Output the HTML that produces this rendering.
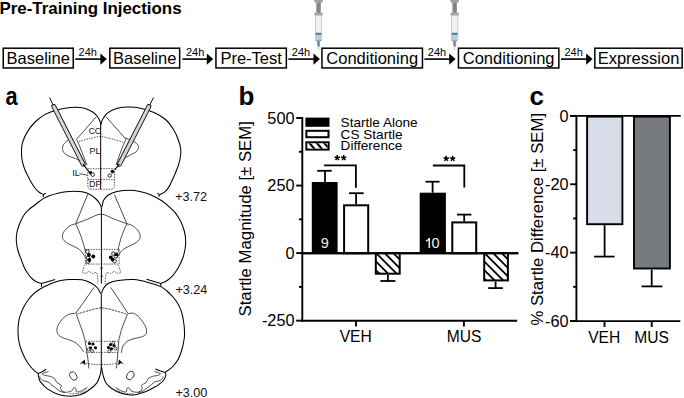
<!DOCTYPE html>
<html><head><meta charset="utf-8"><style>
*{margin:0;padding:0}
html,body{width:684px;height:398px;background:#fff;overflow:hidden}
svg{display:block;position:absolute;left:0;top:0}
text{font-family:"Liberation Sans",sans-serif;fill:#000}
.title{font-weight:bold;font-size:16.9px}
.bt{font-size:16.5px}
.h24{font-size:11px}
.pl{font-weight:bold;font-size:26px}
.tk{font-size:16.3px}
.xl{font-size:15.6px}
.yl{font-size:16.75px}
.lg{font-size:13.6px}
.num{font-size:14.5px;fill:#eee}
.st{font-size:14px;font-weight:bold}
.box{fill:none;stroke:#000;stroke-width:1.5}
.ax{stroke:#000;stroke-width:1.9;fill:none}
.eb{stroke:#000;stroke-width:1.8;fill:none}
.br{stroke:#000;stroke-width:1.8;fill:none}
.o{fill:none;stroke:#000;stroke-width:1.05}
.m{fill:none;stroke:#000;stroke-width:1}
.t{fill:none;stroke:#111;stroke-width:0.75}
.d{fill:none;stroke:#111;stroke-width:0.7;stroke-dasharray:1.5 1.1}
.d2{fill:none;stroke:#111;stroke-width:0.75;stroke-dasharray:2.4 0.9}
.bl{font-size:9px;fill:#111}
.dl{font-size:12.6px;fill:#111}
</style></head>
<body><svg width="684" height="398" viewBox="0 0 684 398"><defs>
<pattern id="hatch" patternUnits="userSpaceOnUse" width="8.4" height="8.4" patternTransform="rotate(-45)">
<rect width="8.4" height="8.4" fill="#fff"/><rect x="0" y="0" width="2.2" height="8.4" fill="#000"/></pattern>
<pattern id="hatch2" patternUnits="userSpaceOnUse" width="5.5" height="5.5" patternTransform="rotate(-45)">
<rect width="5.5" height="5.5" fill="#fff"/><rect x="0" y="0" width="1.8" height="5.5" fill="#000"/></pattern>
</defs>
<text x="-0.5" y="13.9" class="title">Pre-Training Injections</text>
<rect x="3.25" y="48.2" width="70.00" height="19.75" class="box"/>
<text x="38.25" y="63.8" class="bt" text-anchor="middle">Baseline</text>
<rect x="109.85" y="48.2" width="69.80" height="19.75" class="box"/>
<text x="144.75" y="63.8" class="bt" text-anchor="middle">Baseline</text>
<rect x="215.95" y="48.2" width="70.40" height="19.75" class="box"/>
<text x="251.15" y="63.8" class="bt" text-anchor="middle">Pre-Test</text>
<rect x="321.95" y="48.2" width="100.50" height="19.75" class="box"/>
<text x="372.20" y="63.8" class="bt" text-anchor="middle">Conditioning</text>
<rect x="458.45" y="48.2" width="100.40" height="19.75" class="box"/>
<text x="508.65" y="63.8" class="bt" text-anchor="middle">Conditioning</text>
<rect x="594.85" y="48.2" width="87.30" height="19.75" class="box"/>
<text x="638.50" y="63.8" class="bt" text-anchor="middle">Expression</text>
<line x1="75.2" y1="59.1" x2="101.8" y2="59.1" stroke="#000" stroke-width="1.6"/>
<path d="M100.4,53.5 L106.8,59.1 L100.4,64.7 Z" fill="#000"/>
<text x="78.6" y="56.4" class="h24">24h</text>
<line x1="182.5" y1="59.1" x2="208.2" y2="59.1" stroke="#000" stroke-width="1.6"/>
<path d="M206.8,53.5 L213.2,59.1 L206.8,64.7 Z" fill="#000"/>
<text x="185.9" y="56.4" class="h24">24h</text>
<line x1="288.4" y1="59.1" x2="314.9" y2="59.1" stroke="#000" stroke-width="1.6"/>
<path d="M313.5,53.5 L319.9,59.1 L313.5,64.7 Z" fill="#000"/>
<text x="291.8" y="56.4" class="h24">24h</text>
<line x1="424.4" y1="59.1" x2="450.6" y2="59.1" stroke="#000" stroke-width="1.6"/>
<path d="M449.2,53.5 L455.6,59.1 L449.2,64.7 Z" fill="#000"/>
<text x="427.8" y="56.4" class="h24">24h</text>
<line x1="561.0" y1="59.1" x2="587.6" y2="59.1" stroke="#000" stroke-width="1.6"/>
<path d="M586.2,53.5 L592.6,59.1 L586.2,64.7 Z" fill="#000"/>
<text x="564.4" y="56.4" class="h24">24h</text>
<g transform="translate(318.55,0)"><line x1="0" y1="46.4" x2="0" y2="50" stroke="#b8bcc0" stroke-width="0.9"/><path d="M-3.2,40 L-1.5,41.8 L-1.5,46.6 L1.5,46.6 L1.5,41.8 L3.2,40 Z" fill="#8e9499"/><rect x="-3.25" y="15.1" width="6.5" height="25" fill="#eff1f3" stroke="#aeb2b6" stroke-width="0.6"/><rect x="-2.95" y="34.8" width="5.9" height="5.2" fill="#a6d2ee"/><rect x="-2.95" y="32.8" width="5.9" height="2.1" fill="#6c7884"/><rect x="-2.3" y="2.4" width="4.6" height="10.6" fill="#8e9296"/><rect x="-1.0" y="2.4" width="2.0" height="10.6" fill="#7e8286"/><rect x="-4.4" y="12.8" width="8.8" height="2.4" rx="1" fill="#a4a8ac"/><rect x="-4.2" y="-1" width="8.4" height="3.7" rx="1.5" fill="#9ca0a4"/></g>
<g transform="translate(454.65,0)"><line x1="0" y1="46.4" x2="0" y2="50" stroke="#b8bcc0" stroke-width="0.9"/><path d="M-3.2,40 L-1.5,41.8 L-1.5,46.6 L1.5,46.6 L1.5,41.8 L3.2,40 Z" fill="#8e9499"/><rect x="-3.25" y="15.1" width="6.5" height="25" fill="#eff1f3" stroke="#aeb2b6" stroke-width="0.6"/><rect x="-2.95" y="34.8" width="5.9" height="5.2" fill="#a6d2ee"/><rect x="-2.95" y="32.8" width="5.9" height="2.1" fill="#6c7884"/><rect x="-2.3" y="2.4" width="4.6" height="10.6" fill="#8e9296"/><rect x="-1.0" y="2.4" width="2.0" height="10.6" fill="#7e8286"/><rect x="-4.4" y="12.8" width="8.8" height="2.4" rx="1" fill="#a4a8ac"/><rect x="-4.2" y="-1" width="8.4" height="3.7" rx="1.5" fill="#9ca0a4"/></g>
<text x="0" y="0" class="pl" transform="translate(5.4,104.7) scale(0.84,1)">a</text>
<text x="238.5" y="105" class="pl">b</text>
<text x="529.5" y="105" class="pl">c</text>
<line x1="302.3" y1="117.2" x2="302.3" y2="321.5" class="ax"/>
<line x1="296.2" y1="118.00" x2="302.3" y2="118.00" class="ax"/>
<text x="294.5" y="123.70" class="tk" text-anchor="end">500</text>
<line x1="296.2" y1="185.55" x2="302.3" y2="185.55" class="ax"/>
<text x="294.5" y="191.25" class="tk" text-anchor="end">250</text>
<line x1="296.2" y1="253.10" x2="302.3" y2="253.10" class="ax"/>
<text x="294.5" y="258.80" class="tk" text-anchor="end">0</text>
<line x1="296.2" y1="320.65" x2="302.3" y2="320.65" class="ax"/>
<text x="294.5" y="326.35" class="tk" text-anchor="end">-250</text>
<line x1="299" y1="151.77" x2="302.3" y2="151.77" class="ax"/>
<line x1="299" y1="219.32" x2="302.3" y2="219.32" class="ax"/>
<line x1="299" y1="286.88" x2="302.3" y2="286.88" class="ax"/>
<line x1="302.3" y1="253.2" x2="518.3" y2="253.2" class="ax"/>
<line x1="301.4" y1="320.7" x2="517.2" y2="320.7" class="ax"/>
<line x1="356.0" y1="320.7" x2="356.0" y2="326.6" class="ax"/>
<line x1="463.9" y1="320.7" x2="463.9" y2="326.6" class="ax"/>
<text x="355.7" y="341.8" class="xl" text-anchor="middle">VEH</text>
<text x="464" y="341.8" class="xl" text-anchor="middle">MUS</text>
<text transform="translate(250.6,316.5) rotate(-90)" class="yl">Startle Magnitude [± SEM]</text>
<line x1="325.00" y1="182.00" x2="325.00" y2="170.80" class="eb"/><line x1="317.20" y1="170.80" x2="331.70" y2="170.80" class="eb"/>
<rect x="311.80" y="182.00" width="25.80" height="71.20" fill="#000"/>
<line x1="356.10" y1="204.30" x2="356.10" y2="193.20" class="eb"/><line x1="349.10" y1="193.20" x2="363.70" y2="193.20" class="eb"/>
<rect x="344.10" y="205.30" width="24.10" height="47.90" fill="#fff" stroke="#000" stroke-width="2"/>
<line x1="387.90" y1="274.70" x2="387.90" y2="281.00" class="eb"/><line x1="380.40" y1="281.00" x2="395.40" y2="281.00" class="eb"/>
<clipPath id="hc1"><rect x="376.30" y="253.20" width="22.90" height="20.00"/></clipPath><g clip-path="url(#hc1)"><rect x="376.30" y="253.20" width="22.90" height="20.00" fill="#fff"/><path d="M271.00,251.20 L295.00,275.20 M279.60,251.20 L303.60,275.20 M288.20,251.20 L312.20,275.20 M296.80,251.20 L320.80,275.20 M305.40,251.20 L329.40,275.20 M314.00,251.20 L338.00,275.20 M322.60,251.20 L346.60,275.20 M331.20,251.20 L355.20,275.20 M339.80,251.20 L363.80,275.20 M348.40,251.20 L372.40,275.20 M357.00,251.20 L381.00,275.20 M365.60,251.20 L389.60,275.20 M374.20,251.20 L398.20,275.20 M382.80,251.20 L406.80,275.20 M391.40,251.20 L415.40,275.20 M400.00,251.20 L424.00,275.20 M408.60,251.20 L432.60,275.20 M417.20,251.20 L441.20,275.20 M425.80,251.20 L449.80,275.20 M434.40,251.20 L458.40,275.20 M443.00,251.20 L467.00,275.20 M451.60,251.20 L475.60,275.20 M460.20,251.20 L484.20,275.20 M468.80,251.20 L492.80,275.20 " stroke="#000" stroke-width="1.80" fill="none"/></g><rect x="375.80" y="253.2" width="23.90" height="20.50" fill="none" stroke="#000" stroke-width="2"/>
<line x1="432.60" y1="192.70" x2="432.60" y2="181.70" class="eb"/><line x1="425.50" y1="181.70" x2="439.60" y2="181.70" class="eb"/>
<rect x="419.70" y="192.70" width="26.20" height="60.50" fill="#000"/>
<line x1="464.20" y1="221.40" x2="464.20" y2="214.60" class="eb"/><line x1="457.00" y1="214.60" x2="471.40" y2="214.60" class="eb"/>
<rect x="452.30" y="222.40" width="23.90" height="30.80" fill="#fff" stroke="#000" stroke-width="2"/>
<line x1="495.60" y1="281.40" x2="495.60" y2="288.10" class="eb"/><line x1="488.20" y1="288.10" x2="502.90" y2="288.10" class="eb"/>
<clipPath id="hc2"><rect x="484.70" y="253.20" width="22.70" height="26.70"/></clipPath><g clip-path="url(#hc2)"><rect x="484.70" y="253.20" width="22.70" height="26.70" fill="#fff"/><path d="M379.40,251.20 L410.10,281.90 M388.00,251.20 L418.70,281.90 M396.60,251.20 L427.30,281.90 M405.20,251.20 L435.90,281.90 M413.80,251.20 L444.50,281.90 M422.40,251.20 L453.10,281.90 M431.00,251.20 L461.70,281.90 M439.60,251.20 L470.30,281.90 M448.20,251.20 L478.90,281.90 M456.80,251.20 L487.50,281.90 M465.40,251.20 L496.10,281.90 M474.00,251.20 L504.70,281.90 M482.60,251.20 L513.30,281.90 M491.20,251.20 L521.90,281.90 M499.80,251.20 L530.50,281.90 M508.40,251.20 L539.10,281.90 M517.00,251.20 L547.70,281.90 M525.60,251.20 L556.30,281.90 M534.20,251.20 L564.90,281.90 M542.80,251.20 L573.50,281.90 M551.40,251.20 L582.10,281.90 M560.00,251.20 L590.70,281.90 M568.60,251.20 L599.30,281.90 M577.20,251.20 L607.90,281.90 " stroke="#000" stroke-width="1.80" fill="none"/></g><rect x="484.20" y="253.2" width="23.70" height="27.20" fill="none" stroke="#000" stroke-width="2"/>
<line x1="302.3" y1="253.2" x2="518.3" y2="253.2" class="ax"/>
<text x="324.8" y="247.8" class="num" text-anchor="middle">9</text>
<path d="M429.3,237.9 V247.9 M429.3,238.4 C428.6,239.7 427.4,240.6 425.9,241.1" stroke="#eee" stroke-width="1.45" fill="none"/>
<text x="431.5" y="247.8" class="num">0</text>
<path d="M324.1,165.35 H355.9 V187.7" class="br"/>
<path d="M432.9,165.5 H464.3 V187.5" class="br"/>
<path d="M337.20,157.90 L337.20,155.10 M337.20,157.90 L339.86,157.03 M337.20,157.90 L338.85,160.17 M337.20,157.90 L335.55,160.17 M337.20,157.90 L334.54,157.03 " stroke="#000" stroke-width="1.5" fill="none"/>
<path d="M343.70,157.90 L343.70,155.10 M343.70,157.90 L346.36,157.03 M343.70,157.90 L345.35,160.17 M343.70,157.90 L342.05,160.17 M343.70,157.90 L341.04,157.03 " stroke="#000" stroke-width="1.5" fill="none"/>
<path d="M446.20,158.60 L446.20,155.80 M446.20,158.60 L448.86,157.73 M446.20,158.60 L447.85,160.87 M446.20,158.60 L444.55,160.87 M446.20,158.60 L443.54,157.73 " stroke="#000" stroke-width="1.5" fill="none"/>
<path d="M452.60,158.60 L452.60,155.80 M452.60,158.60 L455.26,157.73 M452.60,158.60 L454.25,160.87 M452.60,158.60 L450.95,160.87 M452.60,158.60 L449.94,157.73 " stroke="#000" stroke-width="1.5" fill="none"/>
<rect x="305.4" y="117.6" width="24.1" height="9.2" fill="#000"/>
<rect x="306.4" y="130.8" width="22.1" height="6.4" fill="#fff" stroke="#000" stroke-width="2"/>
<clipPath id="hc3"><rect x="307.20" y="143.20" width="20.50" height="5.50"/></clipPath><g clip-path="url(#hc3)"><rect x="307.20" y="143.20" width="20.50" height="5.50" fill="#fff"/><path d="M219.10,141.20 L227.17,150.70 M226.50,141.20 L234.57,150.70 M233.90,141.20 L241.97,150.70 M241.30,141.20 L249.37,150.70 M248.70,141.20 L256.77,150.70 M256.10,141.20 L264.17,150.70 M263.50,141.20 L271.57,150.70 M270.90,141.20 L278.97,150.70 M278.30,141.20 L286.37,150.70 M285.70,141.20 L293.77,150.70 M293.10,141.20 L301.17,150.70 M300.50,141.20 L308.57,150.70 M307.90,141.20 L315.97,150.70 M315.30,141.20 L323.37,150.70 M322.70,141.20 L330.77,150.70 M330.10,141.20 L338.17,150.70 M337.50,141.20 L345.57,150.70 M344.90,141.20 L352.97,150.70 M352.30,141.20 L360.38,150.70 M359.70,141.20 L367.77,150.70 M367.10,141.20 L375.17,150.70 M374.50,141.20 L382.57,150.70 M381.90,141.20 L389.97,150.70 M389.30,141.20 L397.38,150.70 " stroke="#000" stroke-width="2.10" fill="none"/></g>
<rect x="306.3" y="142.25" width="22.4" height="7.4" fill="none" stroke="#000" stroke-width="1.9"/>
<text x="340.6" y="127.3" class="lg">Startle Alone</text>
<text x="340.6" y="138.7" class="lg">CS Startle</text>
<text x="340.6" y="150.4" class="lg">Difference</text>
<rect x="587.1" y="116.6" width="35.3" height="107.6" fill="#d8dce8" stroke="#000" stroke-width="1.9"/>
<rect x="634" y="116.6" width="35.9" height="151.9" fill="#76797e" stroke="#000" stroke-width="1.9"/>
<line x1="604.60" y1="225.10" x2="604.60" y2="256.60" class="eb"/><line x1="594.10" y1="256.60" x2="614.60" y2="256.60" class="eb"/>
<line x1="651.70" y1="269.40" x2="651.70" y2="286.40" class="eb"/><line x1="641.60" y1="286.40" x2="662.30" y2="286.40" class="eb"/>
<line x1="576.4" y1="115.0" x2="576.4" y2="322.1" class="ax"/>
<line x1="570" y1="115.9" x2="680.8" y2="115.9" class="ax"/>
<line x1="570" y1="321.1" x2="680.3" y2="321.1" class="ax"/>
<line x1="570.1" y1="115.90" x2="576.4" y2="115.90" class="ax"/>
<text x="568.6" y="121.60" class="tk" text-anchor="end">0</text>
<line x1="570.1" y1="184.27" x2="576.4" y2="184.27" class="ax"/>
<text x="568.6" y="189.97" class="tk" text-anchor="end">-20</text>
<line x1="570.1" y1="252.64" x2="576.4" y2="252.64" class="ax"/>
<text x="568.6" y="258.34" class="tk" text-anchor="end">-40</text>
<line x1="570.1" y1="321.01" x2="576.4" y2="321.01" class="ax"/>
<text x="568.6" y="326.71" class="tk" text-anchor="end">-60</text>
<line x1="573.2" y1="150.09" x2="576.4" y2="150.09" class="ax"/>
<line x1="573.2" y1="218.46" x2="576.4" y2="218.46" class="ax"/>
<line x1="573.2" y1="286.83" x2="576.4" y2="286.83" class="ax"/>
<line x1="604.5" y1="321.1" x2="604.5" y2="327" class="ax"/>
<line x1="651.7" y1="321.1" x2="651.7" y2="327" class="ax"/>
<text x="604.2" y="342.5" class="xl" text-anchor="middle">VEH</text>
<text x="651.7" y="342.5" class="xl" text-anchor="middle">MUS</text>
<text transform="translate(542.6,325.6) rotate(-90)" class="yl">% Startle Difference [± SEM]</text>
<path class="o" d="M43.5,194.6 C42.8,194.2 40.9,193.5 39.5,192.5 C38.1,191.5 36.7,190.2 35.3,188.5 C33.9,186.8 32.5,184.5 31.3,182.5 C30.1,180.5 29.2,178.8 28.1,176.6 C27.0,174.3 25.6,171.7 24.6,169.0 C23.6,166.3 22.7,163.5 22.2,160.5 C21.7,157.5 21.4,154.0 21.5,151.0 C21.6,148.0 21.5,146.0 22.5,142.7 C23.5,139.4 25.5,134.8 27.6,131.4 C29.7,128.0 32.2,124.8 35.1,122.0 C38.0,119.2 41.9,116.3 45.2,114.4 C48.5,112.5 51.7,111.5 55.0,110.5 C58.3,109.5 61.6,108.7 65.0,108.2 C68.3,107.7 71.8,107.3 75.1,107.3 C78.4,107.3 82.2,107.6 85.1,108.4 C88.0,109.2 90.6,110.6 92.7,112.0 C94.8,113.4 96.5,115.3 97.7,117.0 C99.0,118.7 99.7,120.7 100.2,122.0 C100.7,123.3 100.7,124.3 100.8,124.8"/>
<path class="o" d="M100.8,124.8 C100.9,124.2 101.2,122.6 101.6,121.5 C102.0,120.4 102.3,119.7 103.3,118.2 C104.3,116.8 105.5,114.4 107.7,112.8 C109.9,111.2 112.9,109.4 116.5,108.4 C120.1,107.4 124.9,107.0 129.1,107.0 C133.3,107.0 137.5,107.5 141.7,108.4 C145.8,109.3 150.0,110.7 154.0,112.5 C158.0,114.3 162.2,116.7 165.5,119.5 C168.8,122.3 171.3,126.1 173.5,129.5 C175.7,132.9 177.2,136.7 178.4,140.0 C179.6,143.3 180.5,146.5 180.8,149.5 C181.1,152.5 180.7,155.2 180.2,158.0 C179.7,160.8 179.0,163.6 178.0,166.5 C177.0,169.4 175.4,173.0 174.3,175.5 C173.2,178.0 172.5,179.6 171.6,181.5 C170.7,183.4 170.0,185.2 168.9,186.9 C167.8,188.6 166.4,190.5 165.1,191.7 C163.8,192.9 162.3,193.5 161.3,194.0 C160.3,194.5 159.5,194.5 159.2,194.6"/>
<path class="o" d="M45.8,193.2 L43.5,194.6 L43.2,197.2"/>
<path class="o" d="M157.4,193.1 L159.2,194.6 L158.9,196.9"/>
<path class="m" d="M100.7,124.8 L100.7,189.4"/>
<path class="t" d="M96.1,117.1 L76.5,139.3"/>
<path class="t" d="M106.3,117.1 L126.0,139.3"/>
<path class="d" d="M79.0,141.6 C80.8,141.1 86.3,139.3 90.0,138.5 C93.7,137.7 97.3,136.5 101.0,136.6 C104.7,136.7 108.3,138.1 112.0,139.0 C115.7,139.9 121.2,141.7 123.0,142.2"/>
<path class="t" d="M68.1,140.1 C67.3,140.8 64.4,142.9 63.5,144.5 C62.6,146.1 62.4,147.9 62.6,149.5 C62.9,151.1 63.8,152.6 65.0,153.8 C66.2,155.0 68.2,155.8 70.0,156.6 C71.8,157.4 73.9,157.8 75.5,158.5 C77.1,159.2 78.8,160.6 79.5,161.0"/>
<path class="t" d="M125.0,137.8 C126.1,138.2 129.5,139.5 131.5,140.5 C133.5,141.5 135.6,142.6 136.8,143.8 C138.0,145.0 138.7,146.2 138.6,147.5 C138.5,148.8 137.4,150.5 136.5,151.5 C135.6,152.5 134.6,152.7 132.9,153.6 C131.2,154.5 128.6,155.8 126.5,157.0 C124.5,158.2 121.6,160.1 120.6,160.7"/>
<path class="t" d="M76.5,139.3 C77.1,140.6 78.9,144.4 80.0,147.0 C81.1,149.6 81.8,152.0 83.0,155.0 C84.2,158.0 86.3,163.3 87.0,165.0"/>
<path class="t" d="M126.0,139.3 C125.4,140.6 123.6,144.4 122.5,147.0 C121.4,149.6 120.6,152.0 119.5,155.0 C118.4,158.0 116.6,163.3 116.0,165.0"/>
<path class="d" d="M87.8,168.8 L114.4,168.6"/>
<path class="d" d="M87.8,179.5 L114.4,179.7"/>
<path class="d" d="M87.8,172.0 C87.8,174.1 87.7,181.8 87.8,184.5 C87.9,187.2 88.0,187.2 88.5,188.0 C89.0,188.8 88.9,189.0 91.0,189.2 C93.1,189.4 99.2,189.2 100.9,189.2"/>
<path class="d" d="M114.4,168.6 C114.4,171.2 114.5,181.3 114.4,184.5 C114.3,187.7 114.2,187.2 113.6,188.0 C113.0,188.8 112.8,189.0 110.7,189.2 C108.6,189.4 102.5,189.2 100.9,189.2"/>
<text x="88.7" y="133.5" class="bl" style="font-size:8.7px;letter-spacing:-0.3px">CC</text>
<text x="89.4" y="153.8" class="bl">PL</text>
<text x="72.2" y="176" class="bl">IL</text>
<text x="89.1" y="187.2" class="bl">DP</text>
<path class="t" d="M79.3,173.6 L87.5,175.2"/>
<line x1="49.6" y1="97.5" x2="53.8" y2="106.5" stroke="#111" stroke-width="1.0"/><line x1="53.8" y1="106.5" x2="83.2" y2="164.2" stroke="#111" stroke-width="4.9" stroke-linecap="round"/><line x1="53.8" y1="106.5" x2="83.2" y2="164.2" stroke="#d4d4d4" stroke-width="3.0" stroke-linecap="round"/><path d="M83.2,164.2 L89.4,172.3" stroke="#111" stroke-width="1.2"/>
<line x1="153.6" y1="97.5" x2="148.9" y2="106.5" stroke="#111" stroke-width="1.0"/><line x1="148.9" y1="106.5" x2="119.4" y2="164.2" stroke="#111" stroke-width="4.9" stroke-linecap="round"/><line x1="148.9" y1="106.5" x2="119.4" y2="164.2" stroke="#d4d4d4" stroke-width="3.0" stroke-linecap="round"/><path d="M119.4,164.2 L114.8,169.8" stroke="#111" stroke-width="1.2"/>
<circle cx="90.6" cy="172.8" r="1.7" fill="#000"/>
<circle cx="92.7" cy="174.6" r="1.8" fill="#fff" stroke="#000" stroke-width="0.8"/>
<circle cx="112.4" cy="171.6" r="1.8" fill="#000"/>
<circle cx="109.8" cy="175.6" r="1.7" fill="#fff" stroke="#000" stroke-width="0.8"/>
<path class="o" d="M41.9,283.5 C41.2,283.3 39.0,283.0 37.5,282.3 C36.0,281.6 34.5,280.8 33.0,279.5 C31.5,278.2 29.9,276.4 28.5,274.5 C27.1,272.6 25.7,270.5 24.5,268.0 C23.3,265.5 22.3,262.5 21.2,259.5 C20.1,256.5 18.6,252.9 17.8,250.0 C17.0,247.1 16.6,244.6 16.4,241.8 C16.2,239.0 16.3,236.0 16.8,233.0 C17.3,230.0 18.3,227.0 19.5,224.0 C20.7,221.0 22.3,217.5 24.0,215.0 C25.7,212.5 27.7,210.7 29.5,209.0 C31.3,207.3 33.3,206.2 34.9,205.0 C36.5,203.8 37.7,202.6 39.2,201.5 C40.7,200.4 41.9,199.4 43.7,198.4 C45.5,197.4 47.6,196.3 50.0,195.4 C52.4,194.5 55.3,193.8 58.0,193.2 C60.7,192.6 63.3,192.1 66.0,191.8 C68.7,191.5 71.3,191.3 74.0,191.3 C76.7,191.3 79.3,191.3 82.0,191.8 C84.7,192.3 87.7,193.3 90.0,194.5 C92.3,195.7 94.3,197.4 96.0,199.0 C97.7,200.6 99.1,202.5 100.0,204.0 C100.9,205.5 101.2,207.3 101.4,208.0"/>
<path class="o" d="M101.9,207.0 C102.2,205.9 102.5,202.5 103.5,200.5 C104.5,198.5 105.8,196.7 108.0,195.2 C110.2,193.7 113.2,192.3 117.0,191.5 C120.8,190.7 127.1,190.3 130.9,190.3 C134.7,190.3 136.8,190.8 140.0,191.5 C143.2,192.2 146.4,192.9 150.0,194.5 C153.6,196.1 158.5,198.6 161.8,200.8 C165.1,203.0 167.7,205.4 170.0,207.5 C172.3,209.6 174.1,211.2 175.9,213.6 C177.7,216.0 179.6,219.1 181.0,222.0 C182.4,224.9 183.5,228.1 184.3,231.0 C185.1,233.9 185.4,236.5 185.6,239.3 C185.8,242.1 185.6,245.1 185.2,248.0 C184.8,250.9 184.2,253.7 183.3,256.5 C182.4,259.3 181.0,262.3 179.7,264.9 C178.4,267.5 177.0,269.9 175.5,272.0 C174.0,274.1 172.5,276.1 170.8,277.7 C169.1,279.3 167.2,280.5 165.5,281.5 C163.8,282.5 161.3,283.2 160.5,283.5"/>
<path d="M41.6,283.5 L55.1,279.4 M41.6,283.5 L41.3,286.6" fill="none" stroke="#000" stroke-width="1.05"/>
<path d="M160.8,283.5 L146.5,279.2 M160.8,283.5 L160.9,286.6" fill="none" stroke="#000" stroke-width="1.05"/>
<path class="m" d="M101.4,208.0 L101.4,283.5"/>
<path class="t" d="M87.7,194.4 L75.7,223.8"/>
<path class="t" d="M114.3,194.4 L126.9,223.8"/>
<path class="t" d="M75.7,223.8 C77.8,223.0 83.8,220.6 88.0,219.0 C92.2,217.4 96.6,214.2 100.9,214.2 C105.2,214.2 109.7,217.4 114.0,219.0 C118.3,220.6 124.8,223.0 126.9,223.8"/>
<path class="t" d="M75.7,223.8 C74.8,224.1 71.9,224.6 70.1,225.7 C68.3,226.8 66.3,228.5 65.0,230.1 C63.7,231.7 62.8,233.5 62.5,235.1 C62.2,236.7 62.4,238.1 63.2,239.5 C64.0,240.9 65.8,242.2 67.6,243.3 C69.4,244.5 71.8,245.4 73.8,246.4 C75.8,247.4 77.9,248.2 79.5,249.5 C81.1,250.8 82.2,252.5 83.3,254.0 C84.3,255.5 85.4,257.6 85.8,258.3"/>
<path class="t" d="M126.9,223.8 C127.8,224.1 130.7,224.6 132.5,225.7 C134.3,226.8 136.3,228.5 137.6,230.1 C138.9,231.7 139.8,233.5 140.1,235.1 C140.4,236.7 140.2,238.1 139.4,239.5 C138.6,240.9 136.8,242.2 135.0,243.3 C133.2,244.5 130.8,245.4 128.8,246.4 C126.8,247.4 124.7,248.2 123.1,249.5 C121.5,250.8 120.3,252.5 119.3,254.0 C118.2,255.5 117.2,257.6 116.8,258.3"/>
<path class="t" d="M75.7,223.8 C76.2,224.8 77.5,227.7 78.5,230.0 C79.5,232.3 80.4,234.7 81.4,237.6 C82.4,240.5 83.8,245.3 84.5,247.7 C85.2,250.1 85.2,251.3 85.4,252.0"/>
<path class="t" d="M126.9,223.8 C126.4,224.8 125.0,227.7 124.1,230.0 C123.1,232.3 122.1,234.7 121.2,237.6 C120.3,240.5 118.9,245.3 118.5,247.7 C118.1,250.1 118.6,251.3 118.6,252.0"/>
<path class="d" d="M85.4,249.4 L119.2,249.4"/>
<path class="d" d="M85.4,264.1 L119.2,264.1"/>
<path class="d" d="M85.4,249.4 L85.4,264.1"/>
<path class="d" d="M119.2,249.4 L119.2,264.1"/>
<path class="d" d="M84.5,265.0 C84.2,265.8 83.3,268.7 83.0,270.0 C82.7,271.3 82.0,272.1 82.5,272.6 C83.0,273.1 84.9,273.4 86.0,273.2 C87.1,273.0 87.9,271.4 89.0,271.5 C90.1,271.6 91.3,273.3 92.5,273.5 C93.7,273.7 95.2,272.1 96.0,272.5 C96.8,272.9 97.2,274.1 97.5,276.0 C97.8,277.9 97.8,282.7 97.8,284.0"/>
<path class="d" d="M118.5,265.0 C118.8,265.8 119.7,268.7 120.0,270.0 C120.3,271.3 121.1,272.1 120.6,272.6 C120.1,273.1 118.1,273.4 117.0,273.2 C115.9,273.0 115.1,271.4 114.0,271.5 C112.9,271.6 111.7,273.3 110.5,273.5 C109.3,273.7 107.8,272.1 107.0,272.5 C106.2,272.9 105.8,274.1 105.5,276.0 C105.2,277.9 105.2,282.7 105.2,284.0"/>
<circle cx="101.6" cy="268" r="0.9" fill="none" stroke="#222" stroke-width="0.6"/>
<circle cx="101.6" cy="276.2" r="0.9" fill="none" stroke="#222" stroke-width="0.6"/>
<circle cx="87.4" cy="251.6" r="1.8" fill="#fff" stroke="#000" stroke-width="0.8"/>
<circle cx="87.9" cy="257.7" r="1.8" fill="#fff" stroke="#000" stroke-width="0.8"/>
<circle cx="87.9" cy="261.6" r="1.8" fill="#fff" stroke="#000" stroke-width="0.8"/>
<circle cx="88.9" cy="255.0" r="1.9" fill="#000"/>
<circle cx="93.3" cy="256.5" r="1.9" fill="#000"/>
<circle cx="89.3" cy="260.0" r="1.9" fill="#000"/>
<circle cx="113.4" cy="253.6" r="1.8" fill="#fff" stroke="#000" stroke-width="0.8"/>
<circle cx="115.8" cy="256.3" r="1.8" fill="#fff" stroke="#000" stroke-width="0.8"/>
<circle cx="114.6" cy="261.2" r="1.8" fill="#fff" stroke="#000" stroke-width="0.8"/>
<circle cx="110.8" cy="257.4" r="1.9" fill="#000"/>
<circle cx="112.6" cy="259.6" r="1.9" fill="#000"/>
<circle cx="116.3" cy="254.4" r="1.9" fill="#000"/>
<path class="o" d="M38.1,373.4 C37.4,372.9 35.5,371.6 34.1,370.4 C32.8,369.2 31.3,367.7 30.0,366.0 C28.7,364.3 27.3,362.4 26.1,360.3 C24.9,358.2 23.8,355.9 22.8,353.5 C21.8,351.1 20.7,348.8 20.0,346.2 C19.3,343.6 18.7,340.7 18.4,338.0 C18.1,335.3 18.0,332.9 18.0,330.2 C18.0,327.5 18.3,324.4 18.6,322.0 C18.9,319.6 19.2,318.5 20.0,316.1 C20.8,313.7 22.1,310.2 23.5,307.5 C24.9,304.8 26.6,302.1 28.1,300.0 C29.6,297.9 30.9,296.4 32.5,294.8 C34.1,293.2 35.7,291.9 37.8,290.5 C39.9,289.1 42.4,287.6 45.0,286.3 C47.6,285.0 50.6,283.6 53.3,282.7 C56.0,281.8 58.2,281.1 61.0,280.6 C63.8,280.1 66.5,279.7 70.0,279.6 C73.5,279.5 78.5,279.2 82.0,279.8 C85.5,280.4 88.4,281.6 91.0,283.0 C93.6,284.4 95.9,286.2 97.5,288.0 C99.1,289.8 100.1,292.6 100.6,293.5"/>
<path class="o" d="M38.1,373.4 L41.8,372.0 L46.2,369.3"/>
<path class="o" d="M101.5,293.5 C101.9,292.5 102.8,289.2 104.0,287.5 C105.2,285.8 106.1,284.3 108.5,283.2 C110.9,282.1 114.2,281.2 118.5,280.6 C122.8,280.0 128.8,279.2 134.0,279.6 C139.2,280.0 145.4,281.7 150.0,282.9 C154.6,284.1 158.4,285.5 161.3,286.9 C164.2,288.3 165.6,289.9 167.5,291.5 C169.4,293.1 171.1,294.8 172.6,296.5 C174.1,298.2 175.4,299.8 176.5,301.5 C177.6,303.2 178.5,304.7 179.4,306.6 C180.3,308.5 181.2,310.8 181.8,313.0 C182.5,315.2 182.9,317.6 183.3,320.0 C183.7,322.4 184.1,324.9 184.3,327.6 C184.5,330.3 184.6,333.6 184.5,336.0 C184.4,338.4 183.9,340.2 183.6,342.0 C183.3,343.8 183.1,345.2 182.6,347.0 C182.1,348.8 181.5,350.9 180.8,353.0 C180.1,355.1 179.2,357.5 178.2,359.3 C177.2,361.1 176.2,362.5 175.0,364.0 C173.8,365.5 172.8,366.7 171.1,368.1 C169.4,369.5 166.0,371.8 165.0,372.5"/>
<path class="o" d="M165.0,372.5 L160.5,371.0 L155.3,369.0"/>
<path class="o" d="M38.1,373.4 C38.2,374.1 38.4,376.1 38.8,377.5 C39.2,378.9 39.0,380.0 40.5,381.9 C42.0,383.8 44.4,386.8 47.5,388.9 C50.6,391.0 55.5,393.6 59.2,394.8 C62.9,396.0 66.3,396.2 69.8,396.2 C73.3,396.2 77.0,395.9 80.3,394.8 C83.6,393.7 86.9,391.4 89.6,389.5 C92.3,387.6 94.9,385.5 96.7,383.1 C98.5,380.7 99.4,377.4 100.2,374.9 C101.0,372.4 101.1,369.1 101.3,367.9"/>
<path class="o" d="M165.0,372.5 C165.1,373.0 166.1,374.2 165.8,375.5 C165.6,376.8 164.6,379.0 163.5,380.5 C162.4,382.0 160.4,383.2 159.0,384.3 C157.6,385.4 157.3,385.7 154.8,387.0 C152.3,388.3 147.6,391.0 143.9,392.3 C140.2,393.6 136.6,394.8 132.9,395.0 C129.2,395.2 125.6,394.8 121.9,393.6 C118.2,392.4 113.7,389.8 111.0,388.0 C108.3,386.2 107.2,384.8 106.0,383.0 C104.8,381.2 104.3,379.2 103.6,377.0 C102.9,374.8 102.3,371.7 102.0,370.0 C101.7,368.3 101.6,367.5 101.5,367.0"/>
<path class="m" d="M101.3,293.5 L101.3,368.0"/>
<path class="t" d="M85.2,300.0 L75.8,313.2"/>
<path class="t" d="M94.0,287.3 L85.2,300.0"/>
<path class="t" d="M110.8,287.4 L128.1,313.6"/>
<path class="d2" d="M76.4,314.4 C78.3,313.8 83.8,311.9 88.0,310.8 C92.2,309.7 97.0,308.0 101.3,307.9 C105.6,307.8 109.6,309.3 114.0,310.4 C118.4,311.5 125.2,313.7 127.5,314.4"/>
<path class="t" d="M75.8,313.2 C74.6,313.4 71.0,313.5 68.8,314.4 C66.6,315.3 64.4,317.0 62.6,318.8 C60.8,320.6 59.2,323.2 58.2,325.1 C57.2,327.0 56.9,328.6 56.9,330.2 C56.9,331.8 57.2,333.2 58.2,334.5 C59.2,335.8 60.6,336.8 62.6,337.7 C64.6,338.6 67.8,339.3 70.1,340.2 C72.4,341.1 74.5,341.9 76.4,343.3 C78.3,344.7 80.2,346.9 81.4,348.4 C82.6,349.8 83.2,351.4 83.5,352.0"/>
<path class="t" d="M128.1,313.6 C128.9,313.5 131.5,312.8 133.2,313.2 C134.9,313.6 136.5,314.7 138.2,316.3 C139.9,317.9 141.8,320.5 143.2,322.6 C144.5,324.7 145.9,326.9 146.3,328.9 C146.7,330.9 146.6,333.1 145.7,334.5 C144.8,335.9 142.8,336.4 140.7,337.1 C138.6,337.8 135.5,338.2 133.2,338.9 C130.9,339.6 128.6,340.3 126.9,341.5 C125.2,342.7 123.9,344.5 123.1,345.9 C122.2,347.3 122.1,348.8 121.8,350.0 C121.5,351.2 121.4,352.5 121.3,353.0"/>
<path class="t" d="M76.4,314.4 C77.0,316.2 79.1,321.9 80.2,325.1 C81.3,328.4 82.5,331.2 83.3,333.9 C84.1,336.6 84.7,338.8 85.2,341.5 C85.8,344.2 86.1,346.9 86.6,350.0 C87.1,353.1 87.6,356.9 88.0,360.0 C88.4,363.1 88.8,367.1 89.0,368.5"/>
<path class="t" d="M127.5,314.4 C126.8,316.2 124.3,321.6 123.1,325.1 C121.8,328.6 120.7,332.5 120.0,335.2 C119.3,337.9 119.0,339.0 118.7,341.5 C118.4,344.0 118.3,346.9 118.1,350.0 C117.8,353.1 117.5,356.9 117.2,360.0 C116.9,363.1 116.5,367.1 116.4,368.5"/>
<path class="d" d="M85.7,341.3 L118.0,341.3"/>
<path class="d" d="M85.7,352.4 L118.0,352.4"/>
<path class="d" d="M86.0,363.4 C87.3,363.6 91.5,364.2 94.0,364.4 C96.5,364.6 98.8,364.6 101.3,364.6 C103.8,364.6 106.4,364.6 109.0,364.4 C111.6,364.2 115.7,363.6 117.0,363.4"/>
<circle cx="89.5" cy="343.5" r="1.6" fill="#000"/>
<circle cx="93.0" cy="344.0" r="1.6" fill="#000"/>
<circle cx="90.5" cy="347.8" r="1.6" fill="#000"/>
<circle cx="95.5" cy="347.8" r="1.6" fill="#000"/>
<circle cx="92.0" cy="351.0" r="1.5" fill="#fff" stroke="#000" stroke-width="0.7"/>
<circle cx="88.6" cy="349.5" r="1.5" fill="#fff" stroke="#000" stroke-width="0.7"/>
<circle cx="108.5" cy="347.5" r="1.6" fill="#000"/>
<circle cx="111.5" cy="348.8" r="1.6" fill="#000"/>
<circle cx="114.0" cy="345.5" r="1.6" fill="#000"/>
<circle cx="110.5" cy="344.6" r="1.6" fill="#000"/>
<circle cx="113.3" cy="342.8" r="1.5" fill="#fff" stroke="#000" stroke-width="0.7"/>
<circle cx="109.3" cy="351.3" r="1.5" fill="#fff" stroke="#000" stroke-width="0.7"/>
<circle cx="115.5" cy="348.5" r="1.5" fill="#fff" stroke="#000" stroke-width="0.7"/>
<path d="M79.4,364.6 L84.6,359.4 L85.6,365.2 L82.6,363 Z" fill="#000"/>
<path d="M124.2,364.6 L119,359.4 L118,365.2 L121,363 Z" fill="#000"/>
<ellipse cx="73.3" cy="376" rx="3.3" ry="4.6" transform="rotate(-35 73.3 376)" class="t"/>
<ellipse cx="130.3" cy="375.5" rx="3.3" ry="4.6" transform="rotate(35 130.3 375.5)" class="t"/>
<path class="t" d="M115.4,387.3 C116.5,387.9 120.1,390.5 121.9,391.2 C123.7,391.9 125.5,392.2 126.3,391.7 C127.1,391.2 126.4,389.0 126.9,388.4 C127.4,387.8 128.5,387.5 129.1,387.9 C129.7,388.3 129.5,389.9 130.7,390.6 C131.9,391.3 134.5,392.2 136.2,392.3 C137.8,392.4 139.6,391.9 140.6,391.2 C141.6,390.5 142.0,388.9 142.2,387.9 C142.4,386.9 141.0,386.1 141.7,385.2 C142.3,384.3 145.0,383.5 146.1,382.4 C147.2,381.3 147.1,379.6 148.2,378.6 C149.3,377.6 150.9,376.9 152.6,376.4 C154.2,375.8 156.8,375.8 158.1,375.3 C159.4,374.8 160.9,374.2 160.3,373.6 C159.7,373.0 155.3,371.8 154.3,371.4"/>
<path class="t" d="M138.0,392.6 C138.8,392.4 141.3,392.0 142.8,391.2 C144.3,390.4 145.7,389.0 147.1,387.9 C148.5,386.8 150.2,385.6 151.5,384.6 C152.8,383.6 153.5,382.5 154.8,381.9 C156.1,381.3 157.9,381.4 159.2,380.8 C160.5,380.2 161.9,379.3 162.5,378.6 C163.1,377.9 162.9,376.8 163.0,376.4"/>
<path class="d" d="M117.0,389.5 C117.8,390.1 120.2,392.1 122.0,392.8 C123.8,393.5 126.0,393.4 128.0,393.6 C130.0,393.8 133.0,393.8 134.0,393.8"/>
<path class="t" d="M87.4,387.3 C86.3,387.9 82.7,390.5 80.9,391.2 C79.1,391.9 77.3,392.2 76.5,391.7 C75.7,391.2 76.4,389.0 75.9,388.4 C75.4,387.8 74.3,387.5 73.7,387.9 C73.1,388.3 73.3,389.9 72.1,390.6 C70.9,391.3 68.2,392.2 66.6,392.3 C64.9,392.4 63.2,391.9 62.2,391.2 C61.2,390.5 60.8,388.9 60.6,387.9 C60.4,386.9 61.8,386.1 61.1,385.2 C60.5,384.3 57.8,383.5 56.7,382.4 C55.6,381.3 55.7,379.6 54.6,378.6 C53.5,377.6 51.9,376.9 50.2,376.4 C48.6,375.8 46.0,375.8 44.7,375.3 C43.4,374.8 41.9,374.2 42.5,373.6 C43.1,373.0 47.5,371.8 48.5,371.4"/>
<path class="t" d="M64.8,392.6 C64.0,392.4 61.5,392.0 60.0,391.2 C58.5,390.4 57.2,389.0 55.7,387.9 C54.2,386.8 52.6,385.6 51.3,384.6 C50.0,383.6 49.3,382.5 48.0,381.9 C46.7,381.3 44.9,381.4 43.6,380.8 C42.3,380.2 40.9,379.3 40.3,378.6 C39.7,377.9 39.9,376.8 39.8,376.4"/>
<path class="d" d="M85.8,389.5 C85.0,390.1 82.6,392.1 80.8,392.8 C79.0,393.5 76.8,393.4 74.8,393.6 C72.8,393.8 69.8,393.8 68.8,393.8"/>
<text x="175.2" y="201" class="dl">+3.72</text>
<text x="175.5" y="294" class="dl">+3.24</text>
<text x="175.5" y="397" class="dl">+3.00</text>
</svg></body></html>
